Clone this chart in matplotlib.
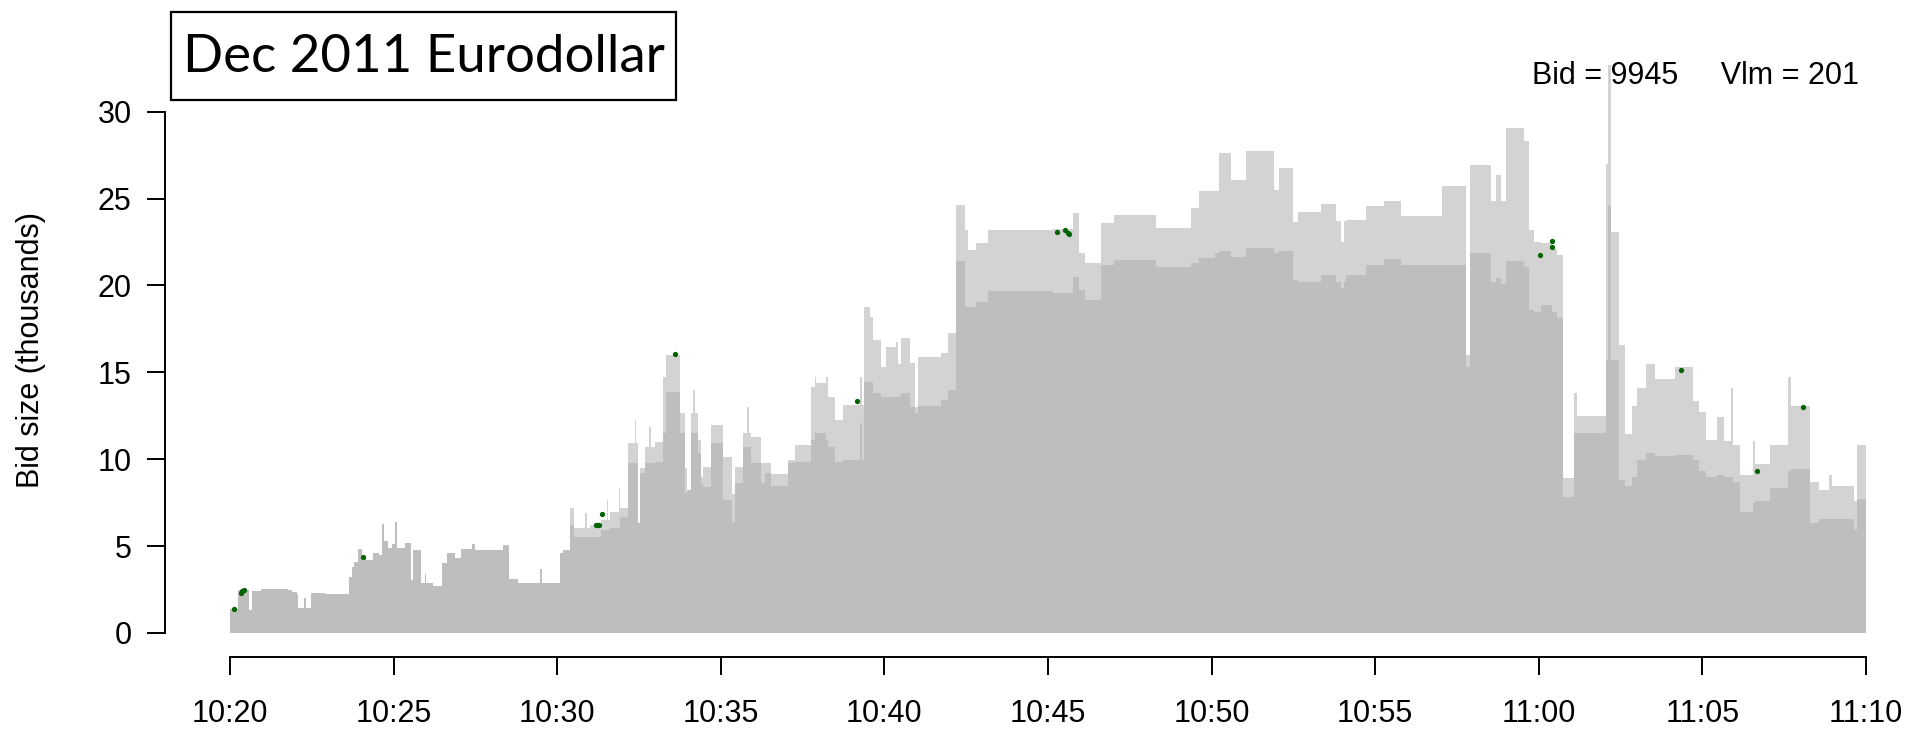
import matplotlib
matplotlib.use("Agg")
import matplotlib.pyplot as plt
from matplotlib.patches import Rectangle
import numpy as np

plt.rcParams["font.family"] = ["Liberation Sans", "DejaVu Sans"]

# Minutes after 10:20, and bid sizes (thousands) holding from that instant on
seg_t = [
    0.00, 0.25, 0.58, 0.68, 0.95, 1.78, 1.88, 2.04, 2.09, 2.26, 2.31, 2.47, 2.90,
    3.63, 3.72, 3.80, 3.90, 4.02, 4.17, 4.38, 4.55, 4.66, 4.71, 4.84, 4.94, 5.05,
    5.10, 5.35, 5.53, 5.58, 5.83, 5.96, 6.00, 6.21, 6.47, 6.62, 6.87, 7.06, 7.40,
    7.48, 8.35, 8.52, 8.81, 9.47, 9.53, 10.08, 10.18, 10.40, 10.50, 10.84, 10.90,
    11.00, 11.35, 11.52, 11.56, 11.61, 11.88, 11.93, 12.17, 12.37, 12.42, 12.47,
    12.52, 12.68, 12.80, 12.86, 12.98, 13.24, 13.34, 13.74, 13.90, 13.98, 14.10,
    14.15, 14.20, 14.30, 14.40, 14.46, 14.71, 15.07, 15.35, 15.42, 15.68, 15.80,
    15.87, 15.93, 16.24, 16.34, 16.54, 17.05, 17.26, 17.77, 17.87, 17.92, 18.22,
    18.27, 18.50, 18.73, 19.24, 19.32, 19.39, 19.55, 19.65, 19.90, 20.06, 20.36,
    20.42, 20.51, 20.77, 20.95, 21.02, 21.74, 21.95, 22.19, 22.45, 22.55, 22.80,
    23.16, 25.15, 25.76, 25.96, 26.12, 26.63, 27.03, 28.31, 29.37, 29.63, 30.09,
    30.24, 30.60, 31.05, 31.92, 32.07, 32.48, 32.63, 33.34, 33.80, 33.97, 34.05,
    34.10, 34.71, 35.27, 35.78, 37.05, 37.77, 37.89, 38.53, 38.68, 38.84, 38.99,
    39.55, 39.70, 39.85, 40.06, 40.41, 40.57, 40.75, 41.08, 41.18, 42.04, 42.10,
    42.20, 42.44, 42.64, 42.84, 42.99, 43.29, 43.55, 44.15, 44.70, 44.90, 45.10,
    45.46, 45.66, 45.86, 45.92, 46.16, 46.56, 46.62, 47.06, 47.62, 47.72, 48.29,
    48.57, 48.87, 48.95, 49.63, 49.73, 50.00,
]

bid_total = [
    1.36, 2.45, 1.30, 2.40, 2.55, 2.45, 2.38, 2.25, 1.42, 2.00, 1.45, 2.32, 2.25,
    3.24, 3.80, 4.10, 4.83, 4.30, 4.20, 4.58, 4.50, 6.30, 5.30, 4.90, 5.10, 6.40,
    4.90, 5.20, 3.05, 4.80, 2.85, 3.40, 2.90, 2.70, 4.00, 4.60, 4.30, 4.83, 5.10,
    4.80, 5.05, 3.09, 2.90, 3.70, 2.85, 4.58, 4.78, 7.17, 6.02, 6.88, 6.02,
    6.21, 6.50, 7.65, 6.50, 6.98, 8.32, 7.17, 10.91, 12.25, 10.91, 6.31,
    9.50, 10.72, 11.87, 10.72, 11.00, 14.75, 16.00, 12.64, 9.50, 8.23, 12.64,
    13.98, 12.64, 11.10, 9.00, 9.57, 11.96, 10.15, 8.00, 9.57, 11.49, 13.02,
    11.49, 11.29, 9.76, 9.76, 9.15, 9.95, 10.81, 14.17, 14.75, 14.36, 14.75,
    13.60, 12.25, 13.12, 14.75, 13.12, 18.78, 18.20, 16.86, 15.33, 16.48, 16.77,
    15.50, 16.96, 15.52, 13.00, 15.90, 16.10, 17.24, 24.63, 23.19, 22.04, 22.42,
    23.19, 23.23, 24.15, 21.84, 21.31, 23.57, 24.05, 23.29, 24.44, 25.45, 25.45,
    27.60, 26.07, 27.75, 25.49, 26.74, 23.67, 24.20, 24.70, 23.70, 22.50, 23.70,
    23.77, 24.55, 24.83, 24.00, 25.70, 16.00, 26.90, 24.87, 26.36, 24.87, 29.03,
    28.28, 23.17, 22.50, 22.42, 22.10, 21.74, 8.89, 13.79, 12.51, 27.00, 32.70,
    23.06, 16.56, 11.45, 13.04, 14.11, 15.50, 14.64, 15.33, 13.36, 12.72, 11.13,
    12.40, 11.02, 14.11, 10.80, 9.10, 11.02, 9.74, 10.80, 14.75, 13.04, 8.68,
    8.25, 9.10, 8.46, 7.61, 10.80, 10.80,
]

bid_outright = [
    1.36, 2.45, 1.30, 2.40, 2.55, 2.45, 2.38, 2.25, 1.42, 2.00, 1.45, 2.32, 2.25,
    3.24, 3.80, 4.10, 4.83, 4.30, 4.20, 4.58, 4.50, 6.30, 5.30, 4.90, 5.10, 6.40,
    4.90, 5.20, 3.05, 4.80, 2.85, 3.40, 2.90, 2.70, 4.00, 4.60, 4.30, 4.83, 5.10,
    4.80, 5.05, 3.09, 2.90, 3.70, 2.85, 4.58, 4.78, 6.21, 5.54, 5.54, 5.54,
    5.54, 5.93, 5.93, 5.93, 6.02, 6.02, 6.69, 9.76, 9.76, 9.76, 6.31,
    9.20, 9.76, 9.76, 9.76, 9.86, 11.49, 13.88, 11.49, 8.04, 8.23, 11.49,
    11.49, 11.49, 10.34, 8.61, 8.42, 10.91, 7.65, 6.40, 8.61, 10.72, 10.72,
    10.72, 9.76, 8.61, 9.19, 8.48, 9.76, 9.86, 11.10, 11.49, 11.49, 11.10,
    10.72, 9.86, 9.95, 12.06, 9.95, 14.46, 14.46, 13.79, 13.60, 13.60, 13.60,
    13.60, 13.79, 13.02, 12.63, 13.08, 13.41, 13.98, 21.42, 18.78, 18.78, 19.06,
    19.70, 19.55, 20.50, 19.74, 19.16, 21.17, 21.46, 21.08, 21.27, 21.56, 21.84,
    21.99, 21.65, 22.13, 21.84, 21.99, 20.31, 20.20, 20.57, 20.18, 19.86, 20.18,
    20.57, 21.20, 21.50, 21.20, 21.20, 15.30, 21.84, 20.18, 20.40, 20.07, 21.42,
    21.04, 18.58, 18.47, 18.86, 18.47, 18.15, 7.82, 11.49, 11.49, 15.71, 24.55,
    15.71, 8.78, 8.46, 9.00, 9.95, 10.38, 10.17, 10.27, 9.95, 9.32, 9.00,
    9.10, 9.00, 9.00, 8.68, 6.97, 7.50, 7.61, 8.36, 9.32, 9.42, 6.33,
    6.55, 6.55, 6.55, 5.90, 7.72, 7.72,
]

# Trades (minutes after 10:20, price level in thousands)
trade_t = [0.13, 0.33, 0.38, 0.43, 4.08, 11.18, 11.23, 11.28, 11.37, 13.61,
           19.16, 25.28, 25.53, 25.62, 25.64, 40.05, 40.41, 40.41, 44.36,
           46.68, 48.06]
trade_v = [1.38, 2.33, 2.42, 2.50, 4.39, 6.21, 6.21, 6.23, 6.86, 16.03,
           13.35, 23.09, 23.19, 23.02, 22.94, 21.74, 22.55, 22.20, 15.13,
           9.32, 12.98]

tick_minutes = [0, 5, 10, 15, 20, 25, 30, 35, 40, 45, 50]
tick_labels = ["10:20", "10:25", "10:30", "10:35", "10:40", "10:45",
               "10:50", "10:55", "11:00", "11:05", "11:10"]
y_ticks = [0, 5, 10, 15, 20, 25, 30]

W, H = 1916, 732
fig = plt.figure(figsize=(W / 100, H / 100), dpi=100)
ax = fig.add_axes([165 / W, 75 / H, 1751 / W, 657 / H])

px_per_min = 1636 / 50.0
px_per_k = 17.38
ax.set_xlim(-65 / px_per_min, -65 / px_per_min + 1751 / px_per_min)
ax.set_ylim(-24 / px_per_k, -24 / px_per_k + 657 / px_per_k)

t = np.array(seg_t)
ax.fill_between(t, 0, bid_total, step="post", color="#d3d3d3", lw=0, zorder=1)
ax.fill_between(t, 0, bid_outright, step="post", color="#bebebe", lw=0, zorder=2)
ax.plot(trade_t, trade_v, "o", color="#006400", ms=3.8, mew=0, zorder=3)

for side in ("top", "right"):
    ax.spines[side].set_visible(False)
ax.spines["left"].set_bounds(0, 30)
ax.spines["bottom"].set_bounds(0, 50)
for side in ("left", "bottom"):
    ax.spines[side].set_linewidth(1.4)

ax.set_yticks(y_ticks)
ax.set_yticklabels([str(v) for v in y_ticks])
ax.set_xticks(tick_minutes)
ax.set_xticklabels(tick_labels)
ax.tick_params(axis="y", length=13, width=1.4, labelsize=22, pad=11)
ax.tick_params(axis="x", length=13, width=1.4, labelsize=22, pad=17)
ax.patch.set_visible(False)

fig.text(31 / W, 1 - 349.5 / H, "Bid size (thousands)", rotation=90,
         ha="center", va="center", fontsize=22)

fig.patches.append(Rectangle((171 / W, 1 - 100 / H), 505 / W, 88 / H,
                             transform=fig.transFigure, fill=False,
                             ec="black", lw=1.6))
fig.text(423.5 / W, 1 - 57 / H, "Dec 2011 Eurodollar", ha="center",
         va="center", fontsize=38, family=["Lato", "DejaVu Sans"])

fig.text(1532 / W, 1 - 76 / H, "Bid = 9945     Vlm = 201", ha="left",
         va="center", fontsize=22)

fig.savefig("out.png", dpi=100)
